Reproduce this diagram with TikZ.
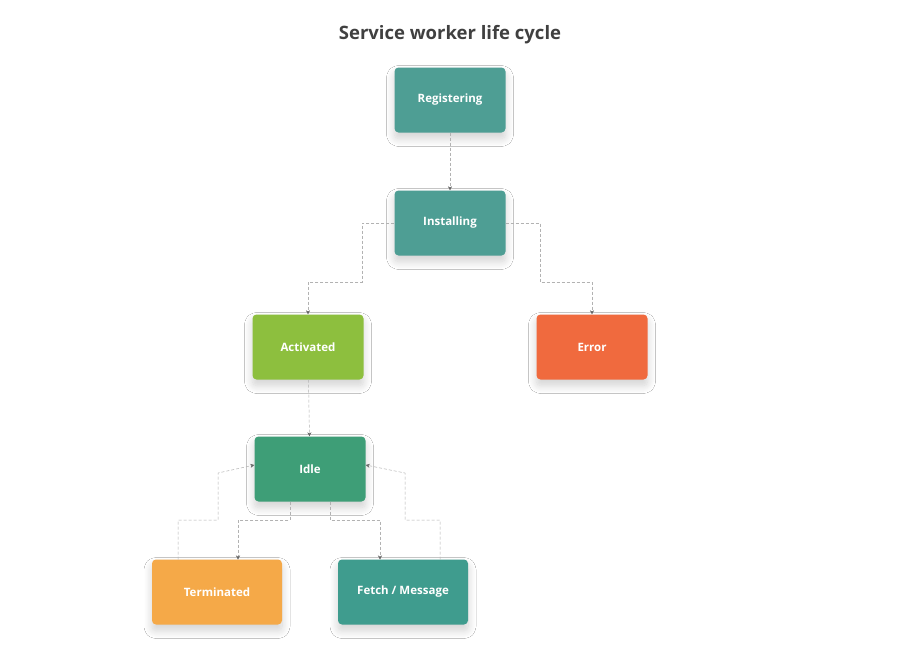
\documentclass[tikz,border=0pt]{standalone}
\usepackage{fontspec}
\setmainfont{Open Sans}
\usetikzlibrary{shadows.blur,arrows.meta}
\definecolor{teal1}{HTML}{4E9E94}
\definecolor{idlec}{HTML}{3E9E77}
\definecolor{actc}{HTML}{8DBF3E}
\definecolor{errc}{HTML}{F06A3E}
\definecolor{termc}{HTML}{F5A948}
\definecolor{fetchc}{HTML}{3F9C8E}
\begin{document}
\begin{tikzpicture}[x=1pt,y=-1pt,
  box/.style={rounded corners=4pt,minimum width=111pt,minimum height=65pt,text=white,font=\bfseries\fontsize{11.5}{13}\selectfont,blur shadow={shadow blur steps=10,shadow blur radius=8pt,shadow xshift=0pt,shadow yshift=-6pt,shadow opacity=18}},
  wide/.style={minimum width=130pt},
  conn/.style={draw=gray!60,densely dashed,line width=0.5pt,-{Stealth[length=4pt,width=4pt,color=gray!80!black]}}]
\useasboundingbox[fill=white] (0,0) rectangle (900,657);
\node[font=\bfseries\fontsize{18.5}{21}\selectfont,text=black!75] (title) at (450,35) {Service worker life cycle};
\node[box,fill=teal1] (reg) at (450,100) {Registering};
\node[box,fill=teal1] (inst) at (450,223) {Installing};
\node[box,fill=actc] (act) at (308,347) {Activated};
\node[box,fill=errc] (err) at (592,347) {Error};
\node[box,fill=idlec] (idle) at (310,469) {Idle};
\node[box,wide,fill=termc] (term) at (217,592) {Terminated};
\node[box,wide,fill=fetchc] (fetch) at (403,592) {Fetch / Message};
\draw[conn] (reg) -- (inst);
\draw[conn] (inst.west) -- (362,223) -- (362,282) -- (308,282) -- (act.north);
\draw[conn] (inst.east) -- (540,223) -- (540,282) -- (592,282) -- (err.north);
\draw[conn] (act) -- (idle);
\draw[conn] ([xshift=-20pt]idle.south) -- (290,520) -- (238,520) -- (238,559.5);
\draw[conn] ([xshift=20pt]idle.south) -- (330,520) -- (380,520) -- (380,559.5);
\draw[conn] (178,559.5) -- (178,520) -- (218,520) -- (218,473) -- ([yshift=4pt]idle.west);
\draw[conn] (440,559.5) -- (440,520) -- (405,520) -- (405,473) -- ([yshift=4pt]idle.east);
\end{tikzpicture}
\end{document}
